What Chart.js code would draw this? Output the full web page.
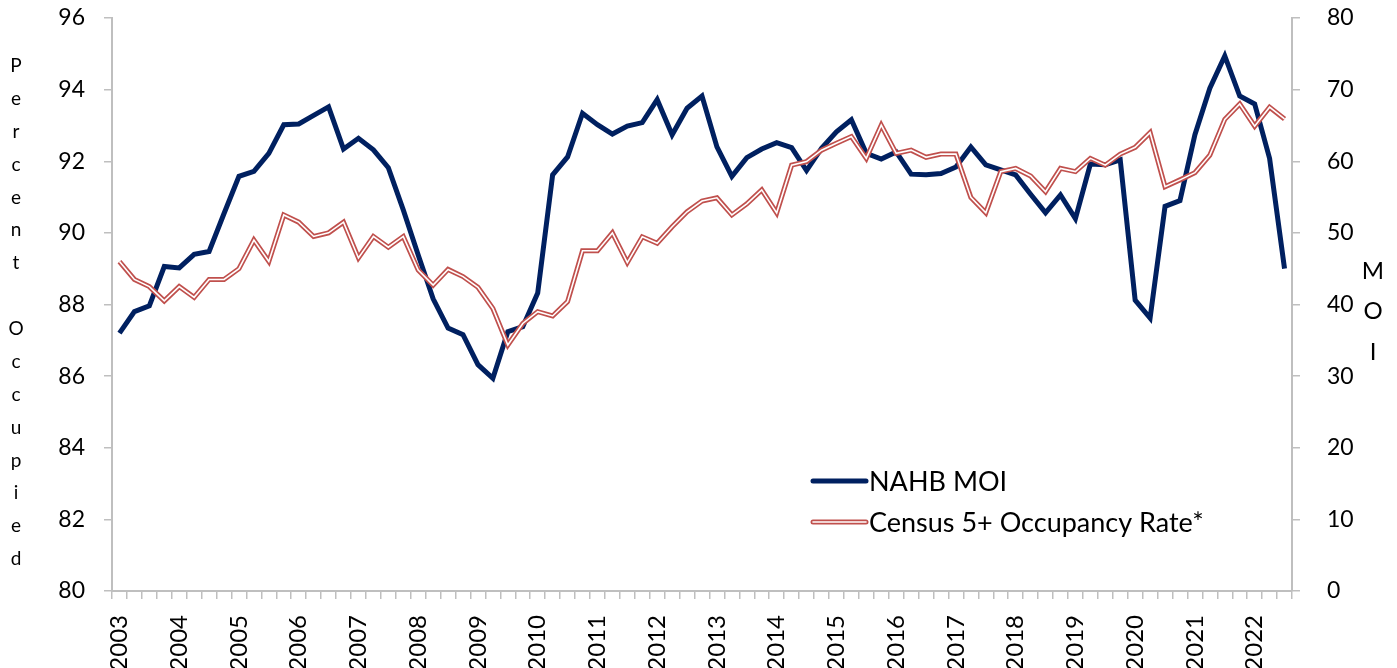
<!DOCTYPE html>
<html>
<head>
<meta charset="utf-8">
<title>NAHB MOI vs Census 5+ Occupancy Rate</title>
<script src="https://cdn.jsdelivr.net/npm/chart.js@4.4.0/dist/chart.umd.min.js"></script>
<style>
    html, body { margin: 0; padding: 0; background: #fff; }
    #wrap { position: relative; width: 1397px; height: 668px; }
</style>
</head>
<body>
<div id="wrap"><canvas id="moi-chart" width="1397" height="668"></canvas></div>
<script>
(function() {
    'use strict';

    // Years on the axis (one label per Q1), data runs 2003Q1 .. 2022Q3
    const years = [2003, 2004, 2005, 2006, 2007, 2008, 2009, 2010, 2011, 2012,
                   2013, 2014, 2015, 2016, 2017, 2018, 2019, 2020, 2021, 2022];
    const quarterNames = ['Q1', 'Q2', 'Q3', 'Q4'];

    // NAHB Multifamily Occupancy Index (right axis)
    const moiValues = [
        36.0, 39.0, 39.8, 45.3, 45.1, 47.0, 47.4, 52.7, 57.9, 58.6,
        61.1, 65.1, 65.2, 66.4, 67.6, 61.7, 63.2, 61.6, 59.1, 53.2,
        46.9, 40.8, 36.7, 35.8, 31.6, 29.7, 36.2, 36.9, 41.6, 58.1,
        60.6, 66.7, 65.1, 63.8, 64.9, 65.4, 68.6, 63.7, 67.4, 69.1,
        62.0, 57.9, 60.5, 61.7, 62.6, 61.9, 58.7, 61.8, 64.1, 65.8,
        61.1, 60.3, 61.3, 58.2, 58.1, 58.3, 59.2, 62.0, 59.5, 58.8,
        58.1, 55.4, 52.8, 55.3, 52.0, 59.6, 59.5, 60.2, 40.6, 38.1,
        53.7, 54.5, 63.7, 70.2, 74.7, 69.1, 68.0, 60.4, 45.0
    ];

    // Census 5+ unit occupancy rate, percent (left axis)
    const occupancyValues = [
        89.2, 88.7, 88.5, 88.1, 88.5, 88.2, 88.7, 88.7, 89.0, 89.8,
        89.2, 90.5, 90.3, 89.9, 90.0, 90.3, 89.3, 89.9, 89.6, 89.9,
        88.96, 88.54, 88.98, 88.78, 88.48, 87.89, 86.87, 87.47, 87.8, 87.68,
        88.08, 89.5, 89.5, 90.0, 89.17, 89.89, 89.71, 90.17, 90.59, 90.89,
        90.98, 90.5, 90.81, 91.2, 90.56, 91.89, 91.99, 92.31, 92.5, 92.69,
        92.08, 93.01, 92.22, 92.31, 92.11, 92.2, 92.2, 90.99, 90.56, 91.71,
        91.8, 91.59, 91.15, 91.8, 91.71, 92.08, 91.89, 92.2, 92.39, 92.8,
        91.29, 91.48, 91.68, 92.17, 93.17, 93.6, 92.98, 93.51, 93.18
    ];

    const seriesNames = ['NAHB MOI', 'Census 5+ Occupancy Rate*'];
    const leftTitle = 'Percent Occupied';
    const rightTitle = 'MOI';

    const colors = {
        moi: '#002060',
        census: '#C0504D',
        axis: '#BFBFBF',
        text: '#000000'
    };
    const fontFamily = 'Lato, "Liberation Sans", sans-serif';

    // Build quarter categories
    const categories = [];
    years.forEach(function(y) {
        quarterNames.forEach(function(q) {
            categories.push(y + ' ' + q);
        });
    });
    categories.length = moiValues.length;

    // Fixed axis widths; drop the label overflow padding so the plot top stays put
    function fitVertical(width) {
        return function(scale) {
            scale.width = width;
            scale.paddingTop = 0;
            scale.paddingBottom = 0;
        };
    }

    /**
     * Stacked-letter axis titles, drawn like the original (one upright letter per line)
     */
    const stackedTitles = {
        id: 'stackedTitles',
        afterDraw: function(chart) {
            const ctx = chart.ctx;
            ctx.save();
            ctx.fillStyle = colors.text;
            ctx.textAlign = 'center';
            ctx.textBaseline = 'middle';

            ctx.font = '19px ' + fontFamily;
            leftTitle.split('').forEach(function(ch, i) {
                ctx.fillText(ch, 16, 66 + i * 32.87);
            });

            ctx.font = '24px ' + fontFamily;
            rightTitle.split('').forEach(function(ch, i) {
                ctx.fillText(ch, 1373, 271 + i * 40.5);
            });
            ctx.restore();
        }
    };

    /**
     * Legend inside the plot area, with the double line sample for the census series
     */
    const insideLegend = {
        id: 'insideLegend',
        afterDraw: function(chart) {
            const ctx = chart.ctx;
            const x0 = 813, x1 = 866;
            const rows = [481, 522];
            ctx.save();
            ctx.lineCap = 'round';

            ctx.strokeStyle = colors.moi;
            ctx.lineWidth = 5;
            ctx.beginPath();
            ctx.moveTo(x0, rows[0]);
            ctx.lineTo(x1, rows[0]);
            ctx.stroke();

            ctx.strokeStyle = colors.census;
            ctx.lineWidth = 5;
            ctx.beginPath();
            ctx.moveTo(x0, rows[1]);
            ctx.lineTo(x1, rows[1]);
            ctx.stroke();
            ctx.strokeStyle = '#ffffff';
            ctx.lineWidth = 1.6;
            ctx.beginPath();
            ctx.moveTo(x0, rows[1]);
            ctx.lineTo(x1, rows[1]);
            ctx.stroke();

            ctx.fillStyle = colors.text;
            ctx.font = '27px ' + fontFamily;
            ctx.textAlign = 'left';
            ctx.textBaseline = 'middle';
            ctx.fillText(seriesNames[0], 869, rows[0] + 1);
            ctx.fillText(seriesNames[1], 869, rows[1] + 1);
            ctx.restore();
        }
    };

    const ctx = document.getElementById('moi-chart').getContext('2d');

    new Chart(ctx, {
        type: 'line',
        data: {
            labels: categories,
            datasets: [{
                label: seriesNames[0],
                data: moiValues,
                yAxisID: 'yRight',
                borderColor: colors.moi,
                borderWidth: 5,
                pointRadius: 0,
                tension: 0,
                order: 3
            }, {
                label: seriesNames[1],
                data: occupancyValues,
                yAxisID: 'yLeft',
                borderColor: colors.census,
                borderWidth: 5,
                pointRadius: 0,
                tension: 0,
                order: 2
            }, {
                label: seriesNames[1] + ' (inner)',
                data: occupancyValues,
                yAxisID: 'yLeft',
                borderColor: '#ffffff',
                borderWidth: 1.6,
                pointRadius: 0,
                tension: 0,
                order: 1
            }]
        },
        options: {
            responsive: false,
            animation: false,
            layout: {
                padding: { top: 18, left: 0, right: 0, bottom: 0 }
            },
            plugins: {
                legend: { display: false },
                tooltip: { enabled: false }
            },
            scales: {
                x: {
                    type: 'category',
                    offset: true,
                    afterFit: function(scale) { scale.height = 77; },
                    border: { color: colors.axis, width: 2 },
                    grid: {
                        offset: true,
                        drawOnChartArea: false,
                        drawTicks: true,
                        tickLength: 8,
                        color: colors.axis,
                        lineWidth: 1.5
                    },
                    ticks: {
                        autoSkip: false,
                        maxRotation: 90,
                        minRotation: 90,
                        padding: 16,
                        color: colors.text,
                        font: { family: fontFamily, size: 24 },
                        callback: function(value, index) {
                            return index % 4 === 0 ? String(years[index / 4]) : '';
                        }
                    }
                },
                yLeft: {
                    position: 'left',
                    min: 80,
                    max: 96,
                    afterFit: fitVertical(112),
                    border: { color: colors.axis, width: 2 },
                    grid: {
                        drawOnChartArea: false,
                        tickLength: 8,
                        color: colors.axis,
                        lineWidth: 1.5
                    },
                    ticks: {
                        stepSize: 2,
                        padding: 19,
                        color: colors.text,
                        font: { family: fontFamily, size: 23 }
                    }
                },
                yRight: {
                    position: 'right',
                    min: 0,
                    max: 80,
                    afterFit: fitVertical(105),
                    border: { color: colors.axis, width: 2 },
                    grid: {
                        drawOnChartArea: false,
                        tickLength: 8,
                        color: colors.axis,
                        lineWidth: 1.5
                    },
                    ticks: {
                        stepSize: 10,
                        padding: 27,
                        color: colors.text,
                        font: { family: fontFamily, size: 23 }
                    }
                }
            }
        },
        plugins: [stackedTitles, insideLegend]
    });
})();
</script>
</body>
</html>
